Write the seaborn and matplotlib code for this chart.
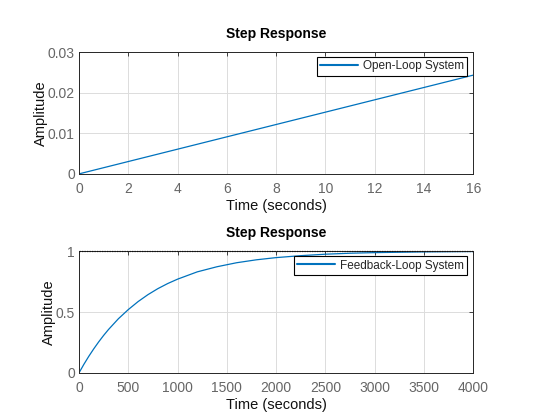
import matplotlib
matplotlib.use("Agg")
import matplotlib.pyplot as plt
import seaborn as sns
import pandas as pd

# Open-loop step response (ramp-like)
t_open = [0, 2, 4, 6, 8, 10, 12, 14, 16]
y_open = [0, 0.00304, 0.00608, 0.00912, 0.01216, 0.0152, 0.01824, 0.02128, 0.02432]

# Feedback-loop step response
t_fb = [0, 50, 100, 150, 200, 250, 300, 400, 500, 600, 700, 800, 900, 1000,
        1200, 1400, 1600, 1800, 2000, 2250, 2500, 2750, 3000, 3500, 4000]
y_fb = [0, 0.071, 0.137, 0.198, 0.255, 0.308, 0.357, 0.445, 0.520, 0.586,
        0.643, 0.692, 0.734, 0.770, 0.830, 0.872, 0.905, 0.929, 0.947, 0.963,
        0.975, 0.983, 0.988, 0.994, 0.997]

steady_t = [0, 4000]
steady_y = [1, 1]

open_ticks = [0, 2, 4, 6, 8, 10, 12, 14, 16]
open_yticks = [0, 0.01, 0.02, 0.03]
fb_ticks = [0, 500, 1000, 1500, 2000, 2500, 3000, 3500, 4000]
fb_yticks = [0, 0.5, 1]

sns.set_style("white")
plt.rcParams['font.family'] = ['Liberation Sans', 'DejaVu Sans']

blue = "#0072BD"
fig = plt.figure(figsize=(5.6, 4.2), dpi=100)
ax1 = fig.add_axes([0.141, 0.586, 0.704, 0.290])
ax2 = fig.add_axes([0.141, 0.112, 0.704, 0.290])

df_open = pd.DataFrame({"t": t_open, "y": y_open})
df_fb = pd.DataFrame({"t": t_fb, "y": y_fb})

sns.lineplot(data=df_open, x="t", y="y", ax=ax1, color=blue, lw=0.9,
             label="Open-Loop System")
sns.lineplot(data=df_fb, x="t", y="y", ax=ax2, color=blue, lw=0.9,
             label="Feedback-Loop System")
ax2.plot(steady_t, steady_y, color="#111111", ls=(0, (1, 1)), lw=0.9,
         zorder=5, clip_on=False)

def style(ax, xt, yt, xlim, ylim, yfmt):
    ax.set_xlim(*xlim)
    ax.set_ylim(*ylim)
    ax.set_xticks(xt)
    ax.set_yticks(yt)
    ax.set_yticklabels([yfmt(v) for v in yt])
    ax.grid(True, color="#dcdcdc", lw=0.7)
    ax.set_axisbelow(True)
    for s in ax.spines.values():
        s.set_color("#262626")
        s.set_linewidth(0.7)
    ax.tick_params(direction="in", length=3, width=0.6, colors="#262626",
                   labelcolor="#666666", labelsize=10, top=True, right=True)
    ax.tick_params(axis="x", pad=6)
    ax.tick_params(axis="y", pad=3)
    ax.set_xlabel("Time (seconds)", fontsize=10.5, color="#111111", labelpad=2)
    ax.set_ylabel("Amplitude", fontsize=10.5, color="#111111", labelpad=0)
    ax.set_title("Step Response", fontsize=10, fontweight="bold", pad=10,
                 color="black")
    leg = ax.legend(loc="upper right", bbox_to_anchor=(0.985, 0.96),
                    fontsize=8.5, fancybox=False, framealpha=1,
                    edgecolor="black", borderpad=0.3, handlelength=3.2,
                    handletextpad=0.4, borderaxespad=0)
    leg.get_frame().set_linewidth(0.8)
    for h in leg.get_lines():
        h.set_linewidth(1.5)

style(ax1, open_ticks, open_yticks, (0, 16), (0, 0.03),
      lambda v: "0" if v == 0 else f"{v:.2f}")
style(ax2, fb_ticks, fb_yticks, (0, 4000), (0, 1),
      lambda v: f"{v:g}")

fig.savefig("out.png", dpi=100, facecolor="white")
